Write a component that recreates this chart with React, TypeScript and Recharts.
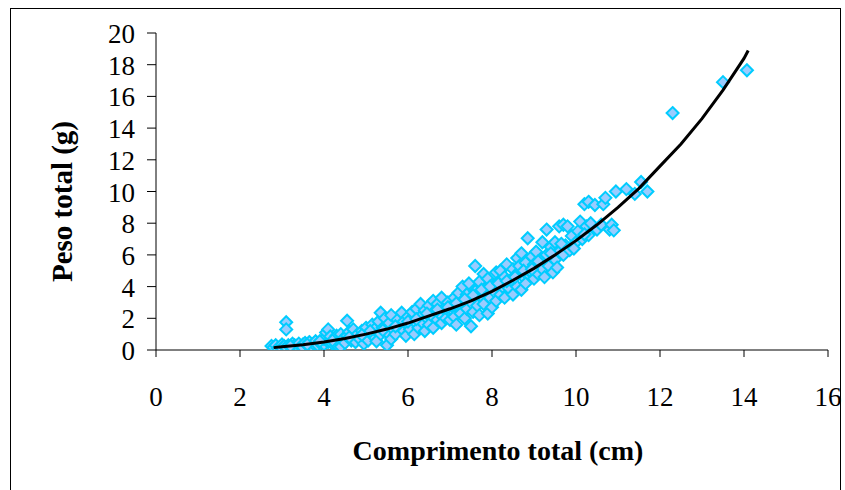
import React from "react";
import { Scatter, ScatterChart, XAxis, YAxis } from "recharts";

// comprimento total (cm) / peso total (g)
const lengths = [
  2.75, 2.8, 2.85, 2.9, 2.95, 3.0, 3.0, 3.05, 3.1, 3.1, 3.1, 3.15, 3.2, 3.25, 3.3, 3.3, 3.35, 3.4, 3.45, 3.5,
  3.5, 3.55, 3.6, 3.65, 3.7, 3.75, 3.8, 3.85, 3.9, 3.95, 4.0, 4.0, 4.05, 4.1, 4.1, 4.15, 4.2, 4.25, 4.3, 4.3,
  4.35, 4.4, 4.4, 4.45, 4.5, 4.55, 4.55, 4.6, 4.65, 4.7, 4.7, 4.75, 4.8, 4.85, 4.9, 4.95, 5.0, 5.0, 5.05, 5.1,
  5.15, 5.2, 5.2, 5.25, 5.3, 5.35, 5.35, 5.4, 5.45, 5.5, 5.5, 5.55, 5.6, 5.6, 5.65, 5.7, 5.75, 5.8, 5.85, 5.9,
  5.9, 5.95, 6.0, 6.0, 6.05, 6.1, 6.15, 6.15, 6.2, 6.25, 6.3, 6.3, 6.35, 6.4, 6.4, 6.45, 6.5, 6.5, 6.55, 6.6,
  6.6, 6.65, 6.7, 6.7, 6.75, 6.8, 6.8, 6.85, 6.9, 6.95, 7.0, 7.0, 7.05, 7.1, 7.1, 7.15, 7.2, 7.2, 7.25, 7.3,
  7.3, 7.35, 7.4, 7.4, 7.45, 7.5, 7.5, 7.55, 7.6, 7.6, 7.65, 7.7, 7.7, 7.75, 7.8, 7.8, 7.85, 7.9, 7.9, 7.95,
  8.0, 8.0, 8.05, 8.1, 8.1, 8.15, 8.2, 8.2, 8.25, 8.3, 8.3, 8.35, 8.4, 8.45, 8.5, 8.5, 8.55, 8.6, 8.6, 8.65,
  8.7, 8.7, 8.75, 8.8, 8.8, 8.85, 8.9, 8.95, 9.0, 9.0, 9.05, 9.1, 9.15, 9.2, 9.2, 9.25, 9.3, 9.3, 9.35, 9.4,
  9.45, 9.5, 9.5, 9.55, 9.6, 9.6, 9.7, 9.7, 9.75, 9.8, 9.85, 9.9, 10.0, 10.05, 10.1, 10.15, 10.2, 10.25, 10.3, 10.3,
  10.35, 10.45, 10.5, 10.6, 10.65, 10.7, 10.8, 10.85, 10.9, 10.95, 11.2, 11.4, 11.55, 11.7, 12.3, 13.5, 14.07,
  // extra fish in the dense middle of the cloud
  3.2, 3.6, 3.9, 4.2, 4.6, 4.9, 5.1, 5.4, 5.7, 6.0, 6.2, 6.45, 6.7, 6.95, 7.15, 7.35, 7.55, 7.75, 7.95, 8.15,
  8.35, 8.55, 8.75, 8.95, 9.1, 9.4, 9.65, 9.95, 10.2,
];
const weights = [
  0.25, 0.15, 0.3, 0.1, 0.2, 0.35, 0.1, 0.25, 1.75, 1.3, 0.15, 0.3, 0.2, 0.4, 0.15, 0.3, 0.25, 0.4, 0.2, 0.35,
  0.15, 0.45, 0.3, 0.5, 0.25, 0.4, 0.55, 0.3, 0.45, 0.6, 0.35, 0.7, 1.1, 1.3, 0.5, 0.85, 0.4, 0.65, 0.9, 0.3,
  0.55, 1.0, 0.2, 0.7, 0.45, 1.85, 0.9, 1.15, 0.6, 0.8, 1.3, 0.5, 1.0, 0.7, 1.2, 0.4, 0.9, 1.4, 0.6, 1.1,
  1.6, 0.8, 1.3, 0.55, 1.8, 2.35, 1.0, 1.4, 2.0, 0.3, 1.1, 1.7, 0.7, 2.2, 1.3, 1.0, 1.9, 1.5, 2.35, 1.2,
  1.8, 0.9, 1.6, 2.1, 1.3, 2.4, 1.0, 1.8, 2.6, 1.4, 2.1, 2.9, 1.7, 1.2, 2.5, 2.0, 1.6, 2.8, 2.2, 1.4,
  3.1, 2.5, 1.9, 2.9, 2.3, 1.7, 3.3, 2.6, 2.0, 3.0, 2.4, 1.9, 2.8, 3.3, 2.1, 1.6, 2.7, 3.6, 2.3, 3.1,
  4.0, 2.0, 3.5, 2.6, 4.2, 1.5, 3.0, 2.4, 5.3, 3.7, 2.8, 4.3, 2.2, 3.4, 4.8, 2.9, 3.9, 2.3, 4.5, 3.3,
  4.1, 2.7, 3.7, 4.9, 3.1, 4.3, 3.5, 5.0, 4.0, 3.3, 4.6, 5.4, 3.9, 4.4, 3.5, 5.1, 4.7, 5.8, 4.0, 5.3,
  3.8, 6.1, 4.6, 5.5, 4.2, 7.05, 5.0, 5.9, 4.5, 5.4, 6.2, 4.8, 5.7, 6.8, 5.1, 4.6, 7.6, 6.0, 5.3, 6.5,
  4.9, 5.7, 6.8, 5.2, 7.8, 6.2, 7.9, 6.0, 6.6, 7.8, 6.3, 7.2, 6.8, 7.5, 8.1, 7.0, 9.2, 7.8, 9.35, 7.25,
  8.0, 9.15, 7.6, 7.9, 9.2, 9.6, 7.6, 7.9, 7.55, 10.0, 10.15, 9.85, 10.6, 10.0, 14.95, 16.9, 17.65,
  0.25, 0.35, 0.55, 0.6, 0.8, 0.95, 1.2, 1.25, 1.5, 1.8, 1.95, 2.3, 2.55, 2.7, 2.95, 3.2, 3.45, 3.8, 4.0, 4.2,
  4.35, 4.6, 5.0, 5.1, 5.6, 6.1, 6.7, 6.4, 7.3,
];

// fitted power curve
const fitLengths = [2.8, 3, 3.5, 4, 4.5, 5, 5.5, 6, 6.5, 7, 7.5, 8, 8.5, 9, 9.5, 10, 10.5, 11, 11.5, 12, 12.5, 13, 13.5, 14, 14.1];
const fitWeights = [0.15, 0.2, 0.33, 0.5, 0.72, 1.0, 1.32, 1.7, 2.15, 2.6, 3.1, 3.7, 4.4, 5.15, 6.0, 6.9, 7.9, 9.0, 10.2, 11.6, 13.0, 14.6, 16.4, 18.4, 18.9];

const xTicks = [0, 2, 4, 6, 8, 10, 12, 14, 16];
const yTicks = [0, 2, 4, 6, 8, 10, 12, 14, 16, 18, 20];

const points = lengths.map((l, i) => ({ x: l, y: weights[i] }));
const fit = fitLengths.map((l, i) => ({ x: l, y: fitWeights[i] }));

const FONT = '"Liberation Serif", "Times New Roman", serif';

const Diamond = (props: any) => {
  const { cx, cy } = props;
  if (cx == null || cy == null) return null;
  const r = 6;
  return (
    <polygon
      points={`${cx},${cy - r} ${cx + r},${cy} ${cx},${cy + r} ${cx - r},${cy}`}
      fill="#99CCFF"
      stroke="#00CCFF"
      strokeWidth={2}
    />
  );
};

const XTick = (props: any) => {
  const { x, y, payload } = props;
  return (
    <text x={x} y={y + 47} textAnchor="middle" fontFamily={FONT} fontSize={27} fill="#000">
      {payload.value}
    </text>
  );
};

const YTick = (props: any) => {
  const { x, y, payload } = props;
  return (
    <text x={x - 10} y={y + 10} textAnchor="end" fontFamily={FONT} fontSize={27} fill="#000">
      {payload.value}
    </text>
  );
};

export default function App() {
  return (
    <div style={{ position: "absolute", left: 0, top: 0, width: 845, height: 490, overflow: "hidden", background: "#fff" }}>
      <div
        style={{
          position: "absolute",
          left: 10,
          top: 8,
          width: 831,
          height: 500,
          border: "1px solid #000",
          boxSizing: "border-box",
        }}
      />
      <ScatterChart
        width={845}
        height={490}
        margin={{ top: 33, right: 17, bottom: 80, left: 56 }}
        style={{ position: "absolute", left: 0, top: 0 }}
      >
        <XAxis
          type="number"
          dataKey="x"
          domain={[0, 16]}
          ticks={xTicks}
          height={60}
          axisLine={{ stroke: "#000", strokeWidth: 1 }}
          tickLine={{ stroke: "#000", strokeWidth: 1 }}
          tickSize={7}
          tickMargin={2}
          tick={<XTick />}
          allowDataOverflow
          label={{
            content: (p: any) => {
              const vb = p.viewBox;
              return (
                <text
                  x={vb.x + vb.width / 2 + 6}
                  y={vb.y + 110}
                  textAnchor="middle"
                  fontFamily={FONT}
                  fontWeight="bold"
                  fontSize={28}
                  fill="#000"
                >
                  Comprimento total (cm)
                </text>
              );
            },
          }}
        />
        <YAxis
          type="number"
          dataKey="y"
          domain={[0, 20]}
          ticks={yTicks}
          width={100}
          axisLine={{ stroke: "#000", strokeWidth: 1 }}
          tickLine={{ stroke: "#000", strokeWidth: 1 }}
          tickSize={9}
          tickMargin={2}
          tick={<YTick />}
          allowDataOverflow
          label={{
            content: (p: any) => {
              const vb = p.viewBox;
              const cx = vb.x + 6;
              const cy = vb.y + vb.height / 2 + 10;
              return (
                <text
                  x={cx}
                  y={cy}
                  transform={`rotate(-90 ${cx} ${cy})`}
                  textAnchor="middle"
                  dominantBaseline="central"
                  fontFamily={FONT}
                  fontWeight="bold"
                  fontSize={29}
                  fill="#000"
                >
                  Peso total (g)
                </text>
              );
            },
          }}
        />
        <Scatter data={points} shape={<Diamond />} isAnimationActive={false} />
        <Scatter
          data={fit}
          line={{ stroke: "#000", strokeWidth: 3 }}
          lineType="joint"
          shape={() => <g />}
          isAnimationActive={false}
        />
      </ScatterChart>
    </div>
  );
}
